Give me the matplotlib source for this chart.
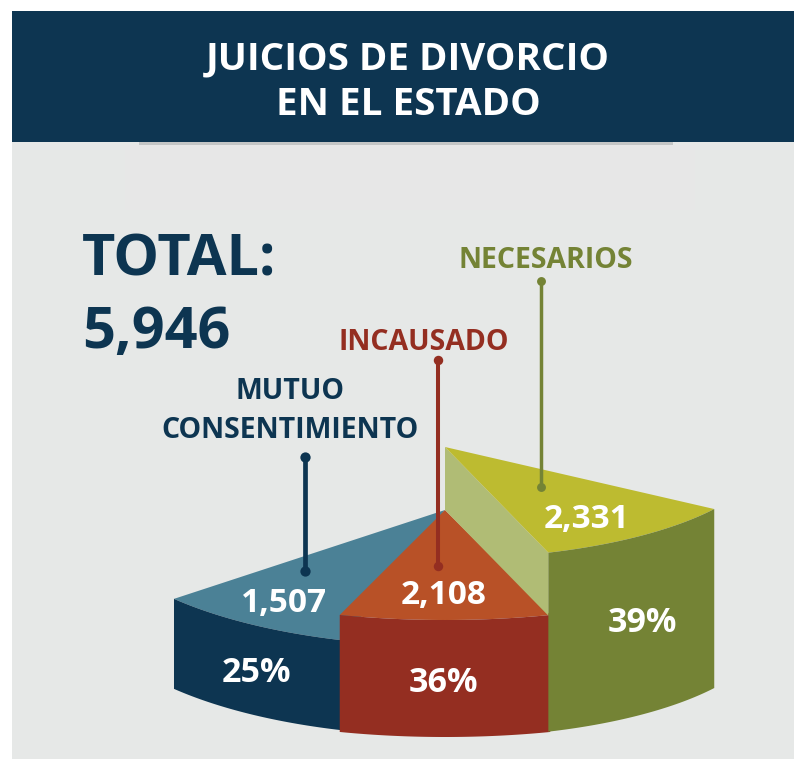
import numpy as np
import matplotlib
matplotlib.use("Agg")
import matplotlib.pyplot as plt
from matplotlib.patches import Rectangle

# ---- data ----
categories = ["MUTUO\nCONSENTIMIENTO", "INCAUSADO", "NECESARIOS"]
values = [1507, 2108, 2331]
value_labels = ["1,507", "2,108", "2,331"]
percent_labels = ["25%", "36%", "39%"]
total_label = "TOTAL:\n5,946"
title_lines = "JUICIOS DE DIVORCIO\nEN EL ESTADO"
# sweep of each slice as drawn in the infographic (not proportional to the values)
sweep_deg = [32.6, 34.8, 37.6]

# ---- styling and layout ----
W, H = 794, 759
FONT = ["Open Sans", "Noto Sans", "DejaVu Sans"]
NAVY = "#0d3551"
PANEL = "#e6e8e7"
top_colors = ["#4b8196", "#b85127", "#bdbb30"]
side_colors = ["#0d3551", "#942e21", "#748335"]
label_colors = ["#0d3551", "#942e21", "#748335"]
cut_color = "#b0bc75"
start_deg = [-49.2, -17.4, 18.6]
centers = [(445, 510), (445, 510), (445, 447)]
radii = [(358, 136), (352, 110), (324, 111.5)]
depths = [90, 117, 179]
value_xy = [(284, 603), (444, 596), (587, 520)]
pct_xy = [(256, 673), (443, 683), (642, 623)]
label_xy = [(290, 411), (424, 342), (546, 261)]
stems = [(305, 457, 571), (438, 360, 566), (541, 281, 487)]
stem_lw = [3.4, 2.9, 2.5]
dot_ms = [7.4, 6.8, 6.4]

fig = plt.figure(figsize=(W / 100, H / 100), dpi=100, facecolor="white")
ax = fig.add_axes([0, 0, 1, 1])
ax.set_xlim(0, W)
ax.set_ylim(H, 0)
ax.axis("off")

ax.add_patch(Rectangle((12, 142), W - 12, H - 142, fc=PANEL, ec="none", zorder=0))
ax.add_patch(Rectangle((125, 145), 570, 65, fc="#e7e7e7", ec="none", zorder=1))
ax.add_patch(Rectangle((139, 142), 534, 3, fc="#c4c6c6", ec="none", zorder=1))
ax.add_patch(Rectangle((12, 11), W - 12, 131, fc=NAVY, ec="none", zorder=2))

ax.text(408, 82, title_lines, color="white", ha="center", va="center",
        family=FONT, weight="bold", fontsize=27.7, linespacing=1.245, zorder=3)
ax.text(82, 297, total_label, color=NAVY, ha="left", va="center",
        family=FONT, weight="bold", fontsize=41.5, linespacing=1.32, zorder=3)


def arc(center, radius, a0, a1, n=60):
    t = np.radians(np.linspace(a0, a1, n))
    return center[0] + radius[0] * np.sin(t), center[1] + radius[1] * np.cos(t)


for i, v in enumerate(values):
    a0, a1 = start_deg[i], start_deg[i] + sweep_deg[i]
    x, y = arc(centers[i], radii[i], a0, a1)
    ax.fill(np.r_[centers[i][0], x], np.r_[centers[i][1], y],
            color=top_colors[i], lw=0, zorder=4 + i * 2)
    ax.fill(np.r_[x, x[::-1]], np.r_[y, y[::-1] + depths[i]],
            color=side_colors[i], lw=0, zorder=5 + i * 2)
    if i == 2:
        # cut face between the lifted slice and the rest of the pie
        ax.fill([centers[2][0], x[0], x[0], centers[1][0]],
                [centers[2][1], y[0], y[0] + centers[1][1] - centers[2][1], centers[1][1]],
                color=cut_color, lw=0, zorder=7.5)

for i, cat in enumerate(categories):
    sx, y0, y1 = stems[i]
    ax.plot([sx, sx], [y0, y1], color=label_colors[i], lw=stem_lw[i], zorder=12,
            solid_capstyle="butt")
    ax.plot([sx, sx], [y0, y1], color=label_colors[i], ls="none", marker="o",
            ms=dot_ms[i], mew=0, zorder=12)
    ax.text(*label_xy[i], cat, color=label_colors[i], ha="center", va="center",
            family=FONT, weight="bold", fontsize=20.5, linespacing=1.41, zorder=13)
    ax.text(*value_xy[i], value_labels[i], color="white", ha="center", va="center",
            family=FONT, weight="bold", fontsize=24, zorder=13)
    ax.text(*pct_xy[i], percent_labels[i], color="white", ha="center", va="center",
            family=FONT, weight="bold", fontsize=24.5, zorder=13)

fig.savefig("out.png", dpi=100, facecolor="white")
